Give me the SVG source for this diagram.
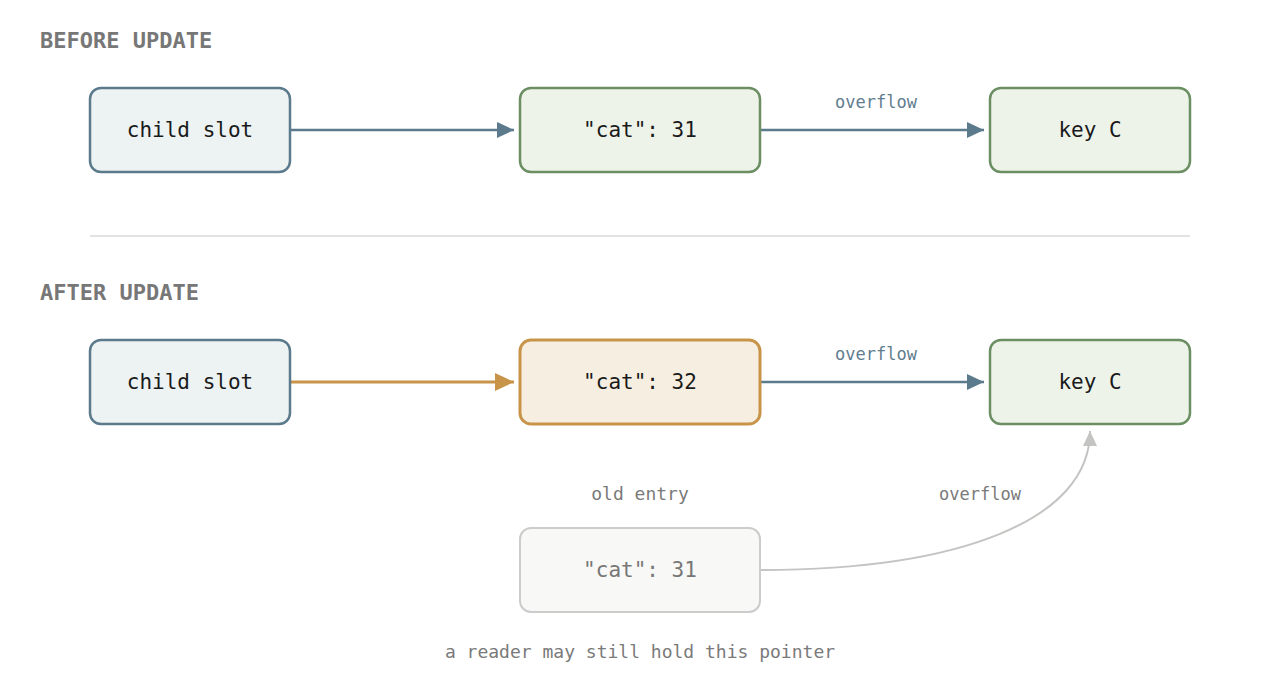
<svg xmlns="http://www.w3.org/2000/svg" width="1280" height="692" viewBox="0 0 1280 692">
<defs>
<style>
text{font-family:"DejaVu Sans Mono","Liberation Mono",monospace}
.hdr{font-size:22px;font-weight:bold;fill:#777777}
.lbl{font-size:21px;fill:#1a1a1a;text-anchor:middle}
.edge{font-size:17px;fill:#5f7d8e;text-anchor:middle}
.note{font-size:18px;fill:#7a7a7a;text-anchor:middle}
.blue{fill:#edf2f3;stroke:#5b7a8c;stroke-width:2.5}
.green{fill:#eef3ea;stroke:#6b8f63;stroke-width:2.5}
.orange{fill:#f6efe1;stroke:#c8944a;stroke-width:3}
.gray{fill:#f8f8f6;stroke:#cccccc;stroke-width:2}
.cb{stroke:#5b7a8c;stroke-width:2.5;fill:none}
.co{stroke:#c8944a;stroke-width:3;fill:none}
.cg{stroke:#c4c4c2;stroke-width:2;fill:none}
</style>
<marker id="ab" markerUnits="userSpaceOnUse" markerWidth="18" markerHeight="16" refX="17" refY="8" orient="auto"><path d="M0,0 L17,8 L0,16 Z" fill="#5b7a8c"/></marker>
<marker id="ao" markerUnits="userSpaceOnUse" markerWidth="20" markerHeight="18" refX="19" refY="9" orient="auto"><path d="M0,0 L19,9 L0,18 Z" fill="#c8944a"/></marker>
<marker id="ag" markerUnits="userSpaceOnUse" markerWidth="16" markerHeight="14" refX="15" refY="7" orient="auto"><path d="M0,0 L15,7 L0,14 Z" fill="#c4c4c2"/></marker>
</defs>
<rect width="1280" height="692" fill="#ffffff"/>
<text class="hdr" x="40" y="48">BEFORE UPDATE</text>
<text class="hdr" x="40" y="300">AFTER UPDATE</text>
<line x1="90" y1="236" x2="1190" y2="236" stroke="#e2e2e2" stroke-width="2"/>
<g id="connectors">
<line class="cb" x1="290" y1="130" x2="514" y2="130" marker-end="url(#ab)"/>
<line class="cb" x1="760" y1="130" x2="984" y2="130" marker-end="url(#ab)"/>
<text class="edge" x="876" y="108">overflow</text>
<line class="co" x1="290" y1="382" x2="514" y2="382" marker-end="url(#ao)"/>
<line class="cb" x1="760" y1="382" x2="984" y2="382" marker-end="url(#ab)"/>
<text class="edge" x="876" y="360">overflow</text>
<path class="cg" d="M760,570 C960,570 1090,520 1090,431" marker-end="url(#ag)"/>
<text class="note" x="980" y="500" style="font-size:17px">overflow</text>
</g>
<g id="before-child"><rect class="blue" x="90" y="88" width="200" height="84" rx="11"/><text class="lbl" x="190" y="137">child slot</text></g>
<g id="before-cat"><rect class="green" x="520" y="88" width="240" height="84" rx="11"/><text class="lbl" x="640" y="137">"cat": 31</text></g>
<g id="before-keyc"><rect class="green" x="990" y="88" width="200" height="84" rx="11"/><text class="lbl" x="1090" y="137">key C</text></g>
<g id="after-child"><rect class="blue" x="90" y="340" width="200" height="84" rx="11"/><text class="lbl" x="190" y="389">child slot</text></g>
<g id="after-cat"><rect class="orange" x="520" y="340" width="240" height="84" rx="11"/><text class="lbl" x="640" y="389">"cat": 32</text></g>
<g id="after-keyc"><rect class="green" x="990" y="340" width="200" height="84" rx="11"/><text class="lbl" x="1090" y="389">key C</text></g>
<g id="old-entry"><text class="note" x="640" y="500">old entry</text><rect class="gray" x="520" y="528" width="240" height="84" rx="11"/><text class="lbl" x="640" y="577" style="fill:#777777">"cat": 31</text></g>
<text class="note" x="640" y="658">a reader may still hold this pointer</text>
</svg>
